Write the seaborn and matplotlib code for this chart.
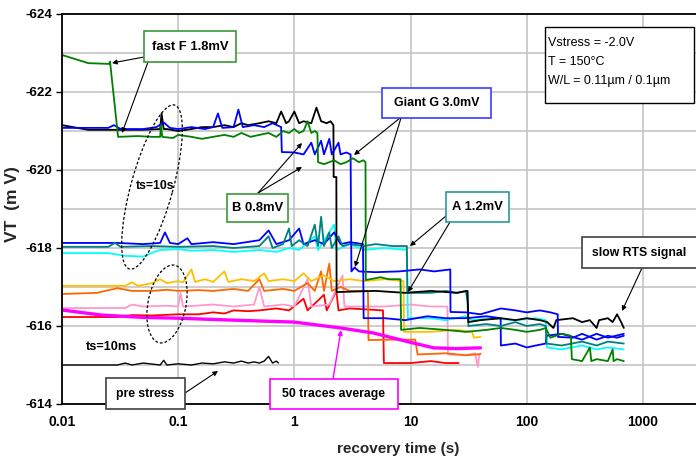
import matplotlib
matplotlib.use("Agg")
import numpy as np
import pandas as pd
import seaborn as sns
import matplotlib.pyplot as plt
from matplotlib.patches import Rectangle, Ellipse, FancyArrowPatch
from matplotlib.ticker import FixedLocator, NullLocator

# ---------------- data ----------------
x_ticks = [0.01, 0.1, 1, 10, 100, 1000]
x_tick_labels = ["0.01", "0.1", "1", "10", "100", "1000"]
y_ticks = [-624, -622, -620, -618, -616, -614]
y_minor = [-623, -621, -619, -617, -615]

pre_t = [0.01, 0.03, 0.035, 0.04, 0.05, 0.07, 0.075, 0.08, 0.1, 0.13, 0.16, 0.2, 0.25,
         0.3, 0.35, 0.4, 0.45, 0.5, 0.55, 0.6, 0.65, 0.7, 0.73]
pre_v = [-615.0, -615.0, -615.05, -615.0, -615.05, -615.0, -615.12, -615.0, -615.03, -615.0,
         -615.05, -615.03, -615.08, -615.05, -615.1, -615.05, -615.08, -615.05, -615.1, -615.22,
         -615.05, -615.1, -615.05]

red_t = [0.01, 0.03, 0.04, 0.06, 0.1, 0.15, 0.2, 0.25, 0.3, 0.4, 0.5, 0.7, 0.9, 1.2, 1.3, 1.8,
         1.9, 2.3, 2.4, 3, 5.8, 5.9, 10, 15, 20, 26]
red_v = [-616.23, -616.23, -616.28, -616.27, -616.3, -616.3, -616.35, -616.32, -616.4, -616.38,
         -616.4, -616.45, -616.4, -616.7, -616.4, -616.8, -616.4, -616.9, -616.4, -616.45,
         -616.4, -615.05, -615.05, -615.1, -615.05, -615.05]

pink_t = [0.01, 0.035, 0.04, 0.05, 0.08, 0.1, 0.105, 0.11, 0.2, 0.3, 0.45, 0.5, 0.55, 0.8, 1.0,
          1.3, 1.4, 2.0, 2.6, 2.7, 4, 6, 10, 15, 20.8, 21, 30, 36, 38, 39, 40]
pink_v = [-616.46, -616.46, -616.55, -616.5, -616.52, -616.5, -616.85, -616.5, -616.55, -616.5,
          -616.55, -617.0, -616.5, -616.55, -616.5, -617.2, -616.5, -616.55, -617.3, -616.5,
          -616.5, -616.5, -616.55, -616.5, -616.5, -615.27, -615.25, -615.3, -614.95, -615.25,
          -615.3]

orange_t = [0.01, 0.02, 0.03, 0.04, 0.06, 0.08, 0.1, 0.15, 0.2, 0.3, 0.4, 0.5, 0.55, 0.8, 1.0,
            1.3, 1.5, 1.7, 1.8, 2.0, 2.1, 2.5, 3, 4.3, 4.35, 7, 11, 11.5, 20, 30, 40]
orange_v = [-616.82, -616.85, -616.97, -616.9, -616.9, -616.93, -616.9, -616.92, -616.9,
            -616.95, -616.9, -617.2, -616.9, -616.95, -616.9, -617.1, -616.9, -617.4, -616.9,
            -617.6, -616.9, -617.0, -616.9, -616.9, -615.64, -615.65, -615.65, -615.27, -615.3,
            -615.25, -615.28]

yellow_t = [0.01, 0.035, 0.04, 0.045, 0.06, 0.07, 0.08, 0.1, 0.11, 0.13, 0.14, 0.17, 0.2, 0.25,
            0.27, 0.35, 0.45, 0.55, 0.6, 0.8, 1.0, 1.2, 1.4, 1.8, 2.2, 3, 4, 6, 8.7, 8.8, 15,
            25, 34, 35, 40]
yellow_v = [-617.03, -617.03, -617.12, -617.03, -617.1, -617.2, -617.1, -617.15, -617.12,
            -617.45, -617.13, -617.2, -617.13, -617.4, -617.13, -617.2, -617.15, -617.35,
            -617.15, -617.2, -617.15, -617.35, -617.15, -617.3, -617.15, -617.2, -617.15,
            -617.2, -617.15, -615.85, -615.85, -615.9, -615.85, -615.7, -615.72]

cyan_t = [0.01, 0.025, 0.035, 0.05, 0.06, 0.07, 0.1, 0.13, 0.2, 0.3, 0.5, 0.7, 0.9, 1.1, 1.5,
          1.6, 2.2, 2.3, 3, 4, 6, 9.3, 9.5, 15, 20, 30, 34, 50, 80, 120, 146, 150, 200, 300,
          400, 500, 686]
cyan_v = [-617.87, -617.87, -617.8, -617.78, -617.88, -617.95, -617.97, -617.93, -617.95,
          -617.9, -617.95, -617.9, -618.0, -617.95, -618.3, -617.95, -618.6, -617.95, -618.1,
          -617.95, -618.0, -617.95, -616.2, -616.2, -616.15, -616.25, -616.15, -616.2, -616.15,
          -616.2, -616.15, -615.45, -615.4, -615.5, -615.4, -615.45, -615.4]

blue2_t = [0.01, 0.03, 0.05, 0.07, 0.077, 0.085, 0.1, 0.12, 0.13, 0.2, 0.3, 0.5, 0.6, 0.7, 0.9,
           1.1, 1.2, 1.5, 1.8, 2.2, 2.5, 3.0, 3.9, 3.95, 6, 9, 14, 20, 30, 45, 59.7, 60, 80,
           100, 120, 146, 148, 200, 300, 400, 500, 686]
blue2_v = [-618.13, -618.13, -618.1, -618.13, -618.4, -618.13, -618.1, -618.25, -618.1, -618.15,
           -618.1, -618.2, -618.45, -618.1, -618.2, -618.5, -618.1, -618.2, -618.1, -618.4,
           -618.1, -618.15, -618.1, -616.2, -616.2, -616.15, -616.25, -616.2, -616.2, -616.25,
           -616.2, -615.5, -615.55, -615.45, -615.5, -615.55, -615.75, -615.8, -615.65,
           -615.8, -615.7, -615.8]

teal_t = [0.01, 0.025, 0.0286, 0.032, 0.06, 0.1, 0.2, 0.3, 0.5, 0.6, 0.65, 0.8, 0.9, 0.95, 1.1,
          1.3, 1.5, 1.6, 1.7, 1.8, 2.0, 2.1, 2.4, 2.6, 3, 4, 5, 7, 9.3, 9.4, 15, 20, 25, 30, 31,
          31.5, 45, 60, 80, 100, 130, 146, 148, 200, 300, 400, 500, 686]
teal_v = [-618.03, -618.03, -618.13, -618.03, -618.05, -618.03, -618.05, -618.0, -618.05,
          -618.3, -618.0, -618.1, -618.5, -618.05, -618.2, -618.05, -618.6, -618.05, -618.8,
          -618.05, -618.4, -618.0, -618.3, -618.05, -618.1, -618.05, -618.1, -618.05, -618.05,
          -616.85, -616.85, -616.9, -616.85, -616.9, -616.6, -616.0, -616.05, -616.0, -616.1,
          -616.0, -616.05, -616.0, -615.55, -615.5, -615.6, -615.5, -615.6, -615.55]

black_t = [0.01, 0.0168, 0.03, 0.05, 0.07, 0.072, 0.075, 0.08, 0.1, 0.13, 0.16, 0.2, 0.25, 0.3,
           0.35, 0.4, 0.5, 0.6, 0.7, 0.77, 0.85, 0.9, 1.0, 1.1, 1.2, 1.4, 1.55, 1.7, 1.9, 2.05,
           2.17, 2.18, 2.3, 2.31, 5, 9, 15, 25, 31, 31.5, 40, 60, 80, 100, 130, 150, 170, 180,
           250, 300, 350, 400, 420, 500, 550, 600, 650, 686]
black_v = [-621.15, -621.03, -621.03, -621.03, -621.05, -621.45, -621.05, -621.05, -621.0,
           -621.05, -621.1, -621.1, -621.15, -621.1, -621.2, -621.15, -621.2, -621.25, -621.2,
           -621.5, -621.2, -621.25, -621.5, -621.2, -621.25, -621.2, -621.6, -621.25, -621.2,
           -621.25, -621.15, -619.82, -619.82, -616.87, -616.9, -616.85, -616.9, -616.85,
           -616.9, -616.1, -616.15, -616.2, -616.15, -616.2, -616.15, -616.1, -615.95, -616.15,
           -616.2, -616.1, -616.15, -615.95, -616.15, -616.2, -616.1, -616.3, -616.1, -615.95]

blue_t = [0.01, 0.025, 0.028, 0.032, 0.05, 0.065, 0.075, 0.085, 0.1, 0.13, 0.17, 0.2, 0.22,
          0.24, 0.3, 0.33, 0.36, 0.45, 0.55, 0.65, 0.77, 0.78, 1.0, 1.2, 1.4, 1.5, 1.7, 1.8,
          2.0, 2.1, 2.4, 2.5, 2.8, 3.05, 3.1, 3.3, 3.6, 5, 8, 12, 16, 22, 22.1, 30, 40, 60,
          80, 100, 130, 160, 185, 186, 250, 300, 400, 500, 600, 686]
blue_v = [-621.08, -621.08, -621.15, -621.05, -621.05, -621.1, -621.22, -621.08, -621.05,
          -621.1, -621.05, -621.1, -621.45, -621.08, -621.1, -621.55, -621.1, -621.15, -621.1,
          -621.2, -621.1, -620.46, -620.45, -620.4, -620.7, -620.4, -620.75, -620.4, -620.8,
          -620.4, -620.7, -620.4, -620.45, -620.4, -617.4, -617.5, -617.4, -617.38, -617.4,
          -617.45, -617.4, -617.45, -616.36, -616.35, -616.3, -616.45, -616.4, -616.35, -616.4,
          -616.35, -616.3, -615.72, -615.7, -615.8, -615.65, -615.75, -615.7, -615.75]

green_t = [0.01, 0.0168, 0.0255, 0.0259, 0.0304, 0.045, 0.06, 0.07, 0.071, 0.073, 0.09, 0.1,
           0.13, 0.16, 0.2, 0.25, 0.3, 0.35, 0.42, 0.5, 0.6, 0.7, 0.77, 0.8, 0.9, 1.0, 1.1,
           1.2, 1.3, 1.4, 1.5, 1.58, 1.6, 1.8, 2.0, 2.2, 2.5, 2.8, 3.2, 3.6, 3.93, 4.1, 4.12,
           4.5, 5.5, 6.5, 8.2, 8.3, 12, 20, 30, 45, 60, 80, 100, 130, 146, 160, 200, 240, 245,
           300, 350, 360, 400, 500, 550, 560, 600, 686]
green_v = [-622.95, -622.74, -622.72, -622.78, -620.85, -620.87, -620.85, -620.85, -621.15,
           -620.85, -620.82, -620.9, -620.85, -620.8, -620.85, -620.9, -620.85, -620.95,
           -620.85, -620.9, -620.95, -620.85, -620.95, -621.0, -620.95, -621.05, -620.95,
           -621.0, -621.25, -620.95, -621.0, -620.95, -620.2, -620.15, -620.2, -620.25,
           -620.15, -620.2, -620.3, -620.2, -620.25, -620.2, -617.18, -617.2, -617.25, -617.2,
           -617.2, -615.9, -615.95, -615.9, -615.85, -615.9, -615.95, -615.9, -615.85, -615.9,
           -615.95, -615.7, -615.8, -615.75, -615.15, -615.1, -615.45, -615.1, -615.15, -615.1,
           -615.4, -615.1, -615.15, -615.1]

avg_t = [0.01, 0.022, 0.05, 0.1, 0.3, 1.0, 2.5, 4.8, 9.4, 15.8, 25, 40]
avg_v = [-616.41, -616.28, -616.22, -616.2, -616.15, -616.1, -615.95, -615.82, -615.6,
         -615.44, -615.42, -615.44]

traces = [
    ("pre stress", pre_t, pre_v, "#000000", 1.0),
    ("red", red_t, red_v, "#ff0000", 1.3),
    ("pink", pink_t, pink_v, "#ff99cc", 1.3),
    ("orange", orange_t, orange_v, "#ff6600", 1.3),
    ("yellow", yellow_t, yellow_v, "#ffc000", 1.3),
    ("cyan", cyan_t, cyan_v, "#00ffff", 1.3),
    ("blue2", blue2_t, blue2_v, "#0000ff", 1.3),
    ("teal", teal_t, teal_v, "#008080", 1.3),
    ("black", black_t, black_v, "#000000", 1.3),
    ("blue", blue_t, blue_v, "#0000ff", 1.3),
    ("green", green_t, green_v, "#008000", 1.3),
    ("average", avg_t, avg_v, "#ff00ff", 2.4),
]

# ---------------- figure ----------------
sns.set_theme(style="white")
FAM = ["Liberation Sans", "DejaVu Sans"]
plt.rcParams["font.family"] = FAM
plt.rcParams["font.weight"] = "bold"

W, H = 696, 462
fig = plt.figure(figsize=(W / 100, H / 100), dpi=100, facecolor="white")
ax = fig.add_axes([62 / W, 58 / H, (759 - 62) / W, 390 / H])
ax.set_facecolor("white")

for name, t, v, col, lw in traces:
    df = pd.DataFrame({"t": t, "v": v})
    sns.lineplot(data=df, x="t", y="v", ax=ax, color=col, linewidth=lw,
                 estimator=None, sort=False)

ax.set_xscale("log")
ax.set_xlim(0.01, 10000)
ax.set_ylim(-614, -624)
ax.xaxis.set_major_locator(FixedLocator(x_ticks))
ax.xaxis.set_minor_locator(NullLocator())
ax.set_xticklabels(x_tick_labels)
ax.yaxis.set_major_locator(FixedLocator(y_ticks))
ax.yaxis.set_minor_locator(FixedLocator(y_minor))
ax.set_yticklabels([str(y) for y in y_ticks])

ax.grid(True, axis="x", which="major", color="#c0c0c0", lw=1.1)
ax.grid(True, axis="y", which="both", color="#c0c0c0", lw=1.1)
ax.set_axisbelow(True)

ax.tick_params(axis="y", which="major", length=4, width=1, direction="out", pad=3,
               labelsize=9.6, colors="black", left=True)
ax.tick_params(axis="y", which="minor", length=0)
ax.tick_params(axis="x", which="major", length=0, pad=8, labelsize=10, colors="black")
for s in ["top", "left", "bottom"]:
    ax.spines[s].set_visible(True)
    ax.spines[s].set_color("black")
    ax.spines[s].set_linewidth(1.3)
ax.spines["right"].set_visible(False)

ax.set_xlabel("recovery time (s)", fontsize=11, fontweight="bold", va="center")
ax.xaxis.set_label_coords((398 - 62) / (759 - 62), -(449 - 404) / 390)
ax.set_ylabel("VT  (m V)", fontsize=12.5, fontweight="bold", va="center")
ax.yaxis.set_label_coords((13 - 62) / (759 - 62), (404 - 204) / 390)


# ---------------- annotations (pixel layout) ----------------
def fx(x):
    return x / W


def fy(y):
    return 1 - y / H


def box(x0, y0, x1, y1, ec, lw=1.2):
    fig.add_artist(Rectangle((fx(x0), fy(y1)), (x1 - x0) / W, (y1 - y0) / H,
                             transform=fig.transFigure, facecolor="white",
                             edgecolor=ec, lw=lw, zorder=5))


def label(x, y, s, size=9.0, weight="bold", ha="center"):
    fig.text(fx(x), fy(y), s, ha=ha, va="center", fontsize=size, fontweight=weight,
             zorder=6, color="black")


def arrow(x0, y0, x1, y1, col="black", lw=0.8):
    fig.add_artist(FancyArrowPatch(
        (fx(x0), fy(y0)), (fx(x1), fy(y1)), transform=fig.transFigure,
        arrowstyle="-|>", mutation_scale=7, color=col, lw=lw,
        shrinkA=0, shrinkB=0, zorder=4))


def ellipse(cx, cy, w, h, ang):
    fig.add_artist(Ellipse((cx / 100, (H - cy) / 100), w / 100, h / 100, angle=ang,
                           transform=fig.dpi_scale_trans, fill=False, edgecolor="black",
                           lw=0.9, linestyle=(0, (2.2, 1.6)), zorder=4))


# fast F
box(144, 31, 236, 62, "#3a9a3a")
label(190, 47, "fast F 1.8mV", size=9.4)
arrow(144, 57, 112, 63)
arrow(148, 62, 122, 133)
# B
box(227, 194, 288, 222, "#3a9a3a")
label(257.5, 208, "B 0.8mV", size=9.4)
arrow(258, 193, 302, 143)
arrow(258, 193, 302, 167)
# Giant G
box(382, 88, 491, 118, "#3b3bff")
label(436.5, 103, "Giant G 3.0mV", size=9.0)
arrow(400, 118, 354, 155)
arrow(401, 118, 355, 267)
# A
box(446, 192, 509, 222, "#2a9a9a")
label(477.5, 207, "A 1.2mV", size=9.4)
arrow(446, 216, 410, 246)
arrow(450, 222, 408, 292)
# slow RTS
box(582, 237, 702, 268, "#404040")
label(639, 253, "slow RTS signal", size=8.8)
arrow(642, 268, 622, 311)
# pre stress
box(106, 378, 185, 409, "#404040")
label(145.5, 394, "pre stress", size=8.8)
arrow(185, 393, 218, 371)
# 50 traces average
box(270, 379, 398, 409, "#ff00ff")
label(334, 394, "50 traces average", size=8.8)
arrow(333, 379, 341, 330, col="#ff00ff", lw=1.0)
# info box
box(545, 27, 694, 103, "black", lw=1.0)
label(548, 43, "Vstress = -2.0V", size=9.0, weight="normal", ha="left")
label(548, 62, "T = 150°C", size=9.0, weight="normal", ha="left")
label(548, 81, "W/L = 0.11µm / 0.1µm", size=9.0, weight="normal", ha="left")
# stress-time groups
ellipse(152, 187, 170, 42, 74.6)
ellipse(167, 304, 79, 38, 79)
label(155, 186, "ts=10s", size=8.8)
label(111, 347, "ts=10ms", size=9.2)

fig.savefig("out.png", dpi=100, facecolor="white")
